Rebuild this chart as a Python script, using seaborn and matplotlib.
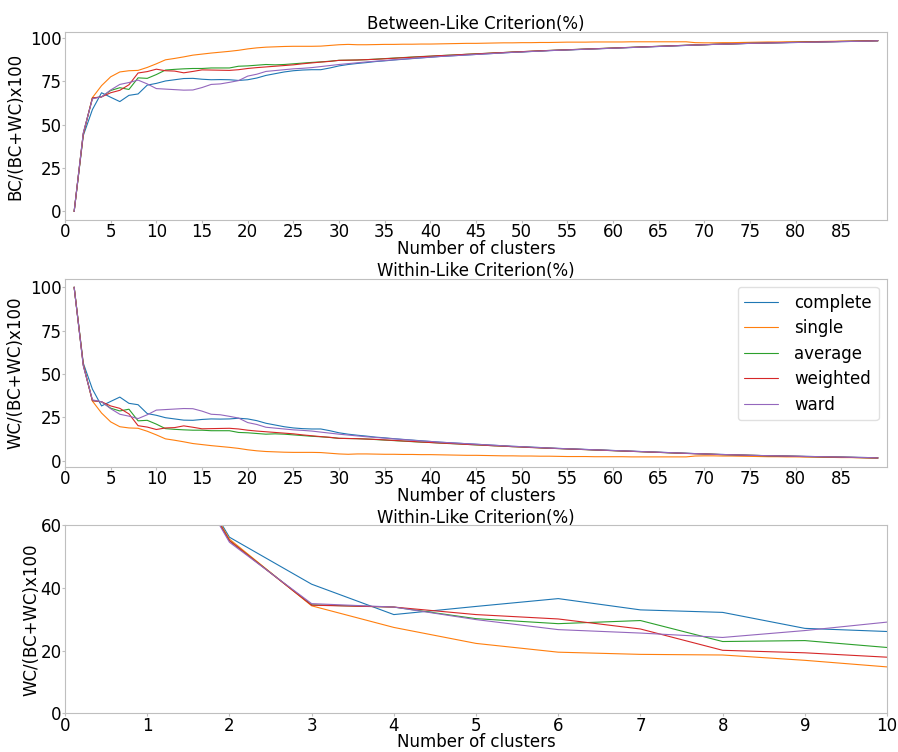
import numpy as np
import pandas as pd
import seaborn as sns
import matplotlib
matplotlib.use('Agg')
import matplotlib.pyplot as plt

# number of clusters 1..89
n_clusters = list(range(1, 90))
methods = ['complete', 'single', 'average', 'weighted', 'ward']

# BC/(BC+WC)x100 (second / third panels are 100 - this)
complete = [0, 43.8, 58.8, 68.5, 65.9, 63.4, 67.0, 67.8, 72.9, 73.9,
            75.3, 76.0, 76.7, 76.8, 76.3, 76.0, 76.1, 76.0, 75.6, 76.0,
            77.0, 78.5, 79.5, 80.5, 81.2, 81.6, 81.8, 81.8, 82.8, 84.0,
            84.8, 85.4, 85.9, 86.5, 86.9, 87.4, 87.8, 88.2, 88.6, 89.0,
            89.4, 89.7, 90.0, 90.3, 90.6, 90.9, 91.2, 91.5, 91.8, 92.0,
            92.3, 92.5, 92.8, 93.0, 93.2, 93.4, 93.6, 93.8, 94.0, 94.2,
            94.4, 94.6, 94.8, 95.0, 95.2, 95.4, 95.6, 95.8, 96.0, 96.2,
            96.4, 96.5, 96.7, 96.8, 97.0, 97.1, 97.2, 97.3, 97.4, 97.5,
            97.6, 97.7, 97.8, 97.9, 98.0, 98.1, 98.2, 98.3, 98.5]
single = [0, 44.4, 65.7, 72.6, 77.7, 80.5, 81.2, 81.4, 83.1, 85.2,
          87.5, 88.3, 89.2, 90.2, 90.8, 91.4, 91.9, 92.4, 93.0, 93.8,
          94.4, 94.8, 95.0, 95.2, 95.3, 95.3, 95.3, 95.4, 95.8, 96.2,
          96.4, 96.2, 96.2, 96.3, 96.4, 96.4, 96.5, 96.5, 96.6, 96.6,
          96.7, 96.8, 96.9, 97.0, 97.0, 97.1, 97.2, 97.3, 97.3, 97.4,
          97.4, 97.5, 97.5, 97.6, 97.7, 97.7, 97.7, 97.8, 97.8, 97.8,
          97.8, 97.9, 97.9, 97.9, 97.9, 97.9, 97.9, 97.9, 97.4, 97.3,
          97.3, 97.4, 97.4, 97.5, 97.6, 97.7, 97.8, 97.8, 97.9, 97.9,
          98.0, 98.0, 98.1, 98.2, 98.3, 98.3, 98.4, 98.5, 98.6]
average = [0, 44.9, 65.4, 66.1, 69.8, 71.4, 70.4, 77.1, 76.8, 79.0,
           81.6, 82.0, 82.3, 82.5, 82.5, 82.8, 82.8, 82.8, 83.8, 84.0,
           84.4, 84.8, 84.6, 84.8, 85.2, 85.6, 86.0, 86.3, 86.7, 87.2,
           87.3, 87.4, 87.6, 87.9, 88.2, 88.5, 88.8, 89.1, 89.4, 89.6,
           89.9, 90.2, 90.4, 90.7, 91.0, 91.2, 91.5, 91.7, 92.0, 92.2,
           92.4, 92.7, 92.9, 93.1, 93.3, 93.5, 93.7, 93.9, 94.1, 94.3,
           94.5, 94.7, 94.9, 95.1, 95.3, 95.5, 95.7, 95.9, 96.0, 96.2,
           96.4, 96.6, 96.7, 96.9, 97.0, 97.1, 97.3, 97.4, 97.5, 97.6,
           97.7, 97.8, 97.9, 98.0, 98.1, 98.2, 98.3, 98.4, 98.5]
weighted = [0, 44.9, 65.5, 66.1, 68.5, 69.9, 73.1, 79.9, 80.7, 82.1,
            81.2, 81.0, 80.0, 80.8, 81.7, 81.6, 81.5, 81.4, 81.8, 82.5,
            83.0, 83.4, 83.8, 84.2, 84.6, 85.2, 85.7, 86.2, 86.6, 87.2,
            87.3, 87.4, 87.6, 87.8, 88.1, 88.4, 88.7, 89.0, 89.3, 89.6,
            89.9, 90.1, 90.4, 90.7, 90.9, 91.2, 91.5, 91.7, 92.0, 92.2,
            92.5, 92.7, 92.9, 93.1, 93.3, 93.5, 93.7, 93.9, 94.1, 94.3,
            94.5, 94.7, 94.9, 95.1, 95.3, 95.5, 95.7, 95.9, 96.1, 96.2,
            96.4, 96.6, 96.7, 96.9, 97.0, 97.1, 97.3, 97.4, 97.5, 97.6,
            97.7, 97.8, 97.9, 98.0, 98.1, 98.2, 98.3, 98.4, 98.5]
ward = [0, 45.4, 65.0, 66.1, 70.1, 73.3, 74.4, 75.8, 73.6, 70.9,
        70.6, 70.3, 70.0, 70.1, 71.5, 73.3, 73.6, 74.5, 75.5, 78.1,
        79.2, 80.8, 81.3, 81.8, 82.3, 82.6, 83.0, 83.6, 84.2, 84.8,
        85.3, 85.8, 86.3, 86.7, 87.1, 87.5, 87.9, 88.3, 88.7, 89.0,
        89.4, 89.7, 90.0, 90.3, 90.6, 90.9, 91.2, 91.5, 91.8, 92.0,
        92.3, 92.5, 92.8, 93.0, 93.2, 93.4, 93.6, 93.8, 94.0, 94.2,
        94.4, 94.6, 94.8, 95.0, 95.2, 95.4, 95.6, 95.8, 96.0, 96.2,
        96.4, 96.5, 96.7, 96.8, 97.0, 97.1, 97.2, 97.3, 97.4, 97.5,
        97.6, 97.7, 97.8, 97.9, 98.0, 98.1, 98.2, 98.3, 98.5]

series = [complete, single, average, weighted, ward]
frames = []
for name, vals in zip(methods, series):
    frames.append(pd.DataFrame({'k': n_clusters, 'between': vals, 'method': name}))
df = pd.concat(frames, ignore_index=True)
df['within'] = 100 - df['between']

sns.set_style('white')
plt.rcParams['font.family'] = ['DejaVu Sans']
plt.rcParams['font.size'] = 12
plt.rcParams['axes.edgecolor'] = '.75'
plt.rcParams['text.color'] = 'black'
plt.rcParams['axes.labelcolor'] = 'black'
plt.rcParams['xtick.color'] = 'black'
plt.rcParams['ytick.color'] = 'black'

fig, axes = plt.subplots(3, 1, figsize=(8.98, 7.52), dpi=100)
plt.subplots_adjust(left=0.0724, right=0.9878, top=0.9574, bottom=0.0515, hspace=0.312)
pal = sns.color_palette('tab10', 5)
lw = 0.8

# Between-like
ax = axes[0]
sns.lineplot(data=df, x='k', y='between', hue='method', palette=pal, linewidth=lw,
             legend=False, ax=ax)
ax.set_title('Between-Like Criterion(%)', fontsize=12, pad=2)
ax.set_xlabel('Number of clusters', fontsize=12, labelpad=-1)
ax.set_ylabel('BC/(BC+WC)x100', fontsize=12)
ax.set_xlim(0, 90)
ax.set_xticks(range(0, 90, 5))
ax.set_yticks([0, 25, 50, 75, 100])

# Within-like
ax = axes[1]
sns.lineplot(data=df, x='k', y='within', hue='method', palette=pal, linewidth=lw, ax=ax)
ax.set_title('Within-Like Criterion(%)', fontsize=12, pad=2)
ax.set_xlabel('Number of clusters', fontsize=12, labelpad=-1)
ax.set_ylabel('WC/(BC+WC)x100', fontsize=12)
ax.set_xlim(0, 90)
ax.set_xticks(range(0, 90, 5))
ax.set_yticks([0, 25, 50, 75, 100])
ax.legend(title=None, fontsize=12, loc='upper right', labelspacing=0.45,
          edgecolor='.85', handletextpad=1.0)

# Within-like, zoom on first clusters
ax = axes[2]
sns.lineplot(data=df, x='k', y='within', hue='method', palette=pal, linewidth=lw,
             legend=False, ax=ax)
ax.set_title('Within-Like Criterion(%)', fontsize=12, pad=2)
ax.set_xlabel('Number of clusters', fontsize=12, labelpad=-1)
ax.set_ylabel('WC/(BC+WC)x100', fontsize=12, labelpad=0)
ax.set_xlim(0, 10)
ax.set_ylim(0, 60)
ax.set_xticks(range(0, 11))
ax.set_yticks([0, 20, 40, 60])

for ax in axes:
    ax.tick_params(labelsize=12, length=2, color='.75', bottom=True, left=True, pad=0.5)

plt.savefig('out.png', dpi=100)
